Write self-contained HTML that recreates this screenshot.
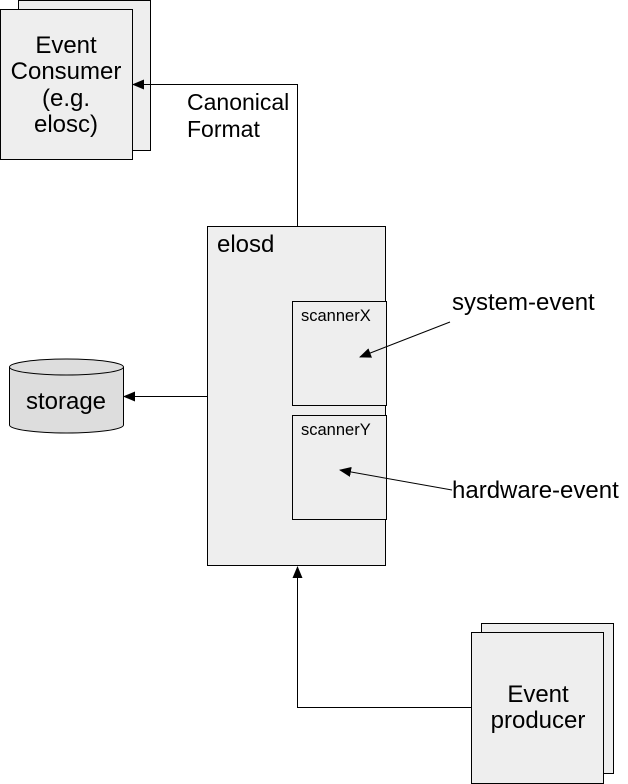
<!DOCTYPE html>
<html><head><style>body{margin:0;background:#fff}svg{display:block}</style></head><body>
<svg width="628" height="784" viewBox="0 0 628 784" xmlns="http://www.w3.org/2000/svg" font-family="Liberation Sans, sans-serif">
<defs><marker id="a" markerWidth="12" markerHeight="10" refX="11" refY="5" orient="auto" markerUnits="userSpaceOnUse"><path d="M0,0 L12,5 L0,10 z" fill="#000"/></marker></defs>
<rect x="18.5" y="0.5" width="132" height="150" fill="#eee" stroke="#000"/>
<rect x="0.5" y="9.5" width="132" height="150" fill="#eee" stroke="#000"/>
<g font-size="24" text-anchor="middle" fill="#000">
<text x="66" y="53">Event</text><text x="66" y="79">Consumer</text><text x="66" y="106">(e.g.</text><text x="66" y="132">elosc)</text>
</g>
<polyline points="297.5,226 297.5,84.5 133,84.5" fill="none" stroke="#000" marker-end="url(#a)"/>
<text x="187" y="110" font-size="23">Canonical</text><text x="187" y="137" font-size="23">Format</text>
<rect x="207.5" y="226.5" width="178" height="339" fill="#eee" stroke="#000"/>
<text x="217" y="252" font-size="24">elosd</text>
<rect x="292.5" y="301.5" width="94" height="104" fill="#eee" stroke="#000"/>
<rect x="292.5" y="415.5" width="94" height="104" fill="#eee" stroke="#000"/>
<text x="301" y="321" font-size="16.5">scannerX</text>
<text x="301" y="435" font-size="16.5">scannerY</text>
<line x1="450" y1="322" x2="360" y2="357" stroke="#000" marker-end="url(#a)"/>
<line x1="452" y1="490" x2="340" y2="470" stroke="#000" marker-end="url(#a)"/>
<text x="452" y="310" font-size="24">system-event</text>
<text x="452" y="498" font-size="24">hardware-event</text>
<path d="M9.5,367 L9.5,425 A57,8 0 0 0 123.5,425 L123.5,367" fill="#ddd" stroke="#000"/>
<ellipse cx="66.5" cy="367" rx="57" ry="8" fill="#ddd" stroke="#000"/>
<text x="66" y="409" font-size="24" text-anchor="middle">storage</text>
<line x1="207" y1="396.5" x2="124" y2="396.5" stroke="#000" marker-end="url(#a)"/>
<rect x="481.5" y="623.5" width="132" height="150" fill="#eee" stroke="#000"/>
<rect x="471.5" y="632.5" width="132" height="151" fill="#eee" stroke="#000"/>
<text x="538" y="702" font-size="24" text-anchor="middle">Event</text>
<text x="538" y="728" font-size="24" text-anchor="middle">producer</text>
<polyline points="471,707.5 297.5,707.5 297.5,567" fill="none" stroke="#000" marker-end="url(#a)"/>
</svg>
</body></html>
